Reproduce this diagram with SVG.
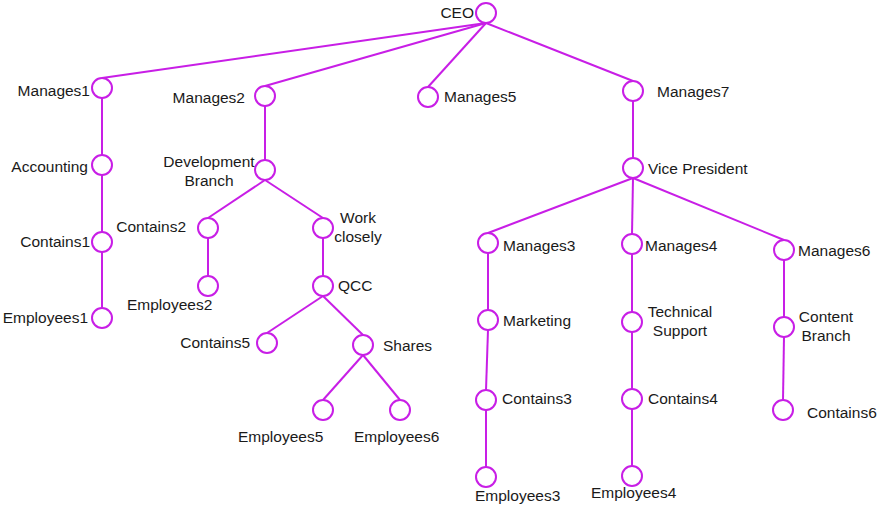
<svg xmlns="http://www.w3.org/2000/svg" width="879" height="507" viewBox="0 0 879 507">
<style>
.n{fill:#fff;stroke:#c81ee6;stroke-width:2}
.e{stroke:#c81ee6;stroke-width:2;fill:none}
text{font-family:"Liberation Sans",Arial,sans-serif;font-size:15.5px;fill:#1a1a1a}
.r{text-anchor:end}
.m{text-anchor:middle}
</style>
<rect width="879" height="507" fill="#fff"/>
<g id="connectors">
<line class="e" x1="486" y1="23" x2="102" y2="78"/>
<line class="e" x1="486" y1="23" x2="265" y2="86"/>
<line class="e" x1="486" y1="23" x2="428" y2="87"/>
<line class="e" x1="486" y1="23" x2="633" y2="81"/>
<line class="e" x1="102" y1="98" x2="102" y2="155"/>
<line class="e" x1="102" y1="175" x2="102" y2="232"/>
<line class="e" x1="102" y1="252" x2="102" y2="308"/>
<line class="e" x1="265" y1="106" x2="265" y2="160"/>
<line class="e" x1="265" y1="180" x2="208" y2="218"/>
<line class="e" x1="265" y1="180" x2="323" y2="218"/>
<line class="e" x1="208" y1="238" x2="208" y2="276"/>
<line class="e" x1="323" y1="238" x2="323" y2="276"/>
<line class="e" x1="323" y1="296" x2="267" y2="333"/>
<line class="e" x1="323" y1="296" x2="363" y2="335"/>
<line class="e" x1="363" y1="355" x2="323" y2="400"/>
<line class="e" x1="363" y1="355" x2="400" y2="400"/>
<line class="e" x1="633" y1="101" x2="633" y2="158"/>
<line class="e" x1="633" y1="178" x2="488" y2="233"/>
<line class="e" x1="633" y1="178" x2="632" y2="234"/>
<line class="e" x1="633" y1="178" x2="784" y2="240"/>
<line class="e" x1="488" y1="253" x2="488" y2="310"/>
<line class="e" x1="488" y1="330" x2="486" y2="390"/>
<line class="e" x1="486" y1="410" x2="486" y2="467"/>
<line class="e" x1="632" y1="254" x2="632" y2="312"/>
<line class="e" x1="632" y1="332" x2="632" y2="389"/>
<line class="e" x1="632" y1="409" x2="632" y2="466"/>
<line class="e" x1="784" y1="260" x2="784" y2="317"/>
<line class="e" x1="784" y1="337" x2="783" y2="400"/>
</g>
<g id="ceo"><circle class="n" cx="486" cy="13" r="10"/><text class="r" x="474" y="18">CEO</text></g>
<g id="manages1"><circle class="n" cx="102" cy="88" r="10"/><text class="r" x="90" y="96">Manages1</text></g>
<g id="accounting"><circle class="n" cx="102" cy="165" r="10"/><text class="r" x="88" y="172">Accounting</text></g>
<g id="contains1"><circle class="n" cx="102" cy="242" r="10"/><text class="r" x="90" y="247">Contains1</text></g>
<g id="employees1"><circle class="n" cx="102" cy="318" r="10"/><text class="r" x="88" y="323">Employees1</text></g>
<g id="manages2"><circle class="n" cx="265" cy="96" r="10"/><text class="r" x="245" y="103">Manages2</text></g>
<g id="development-branch"><circle class="n" cx="265" cy="170" r="10"/><text class="m" x="209" y="167">Development</text><text class="m" x="209" y="186">Branch</text></g>
<g id="contains2"><circle class="n" cx="208" cy="228" r="10"/><text class="r" x="186" y="232">Contains2</text></g>
<g id="employees2"><circle class="n" cx="208" cy="286" r="10"/><text x="127" y="310">Employees2</text></g>
<g id="work-closely"><circle class="n" cx="323" cy="228" r="10"/><text class="m" x="358" y="223">Work</text><text class="m" x="358" y="242">closely</text></g>
<g id="qcc"><circle class="n" cx="323" cy="286" r="10"/><text x="338" y="291">QCC</text></g>
<g id="contains5"><circle class="n" cx="267" cy="343" r="10"/><text class="r" x="250" y="348">Contains5</text></g>
<g id="shares"><circle class="n" cx="363" cy="345" r="10"/><text x="383" y="351">Shares</text></g>
<g id="employees5"><circle class="n" cx="323" cy="410" r="10"/><text x="238" y="442">Employees5</text></g>
<g id="employees6"><circle class="n" cx="400" cy="410" r="10"/><text x="354" y="442">Employees6</text></g>
<g id="manages5"><circle class="n" cx="428" cy="97" r="10"/><text x="444" y="102">Manages5</text></g>
<g id="manages7"><circle class="n" cx="633" cy="91" r="10"/><text x="657" y="97">Manages7</text></g>
<g id="vice-president"><circle class="n" cx="633" cy="168" r="10"/><text x="648" y="174">Vice President</text></g>
<g id="manages3"><circle class="n" cx="488" cy="243" r="10"/><text x="503" y="251">Manages3</text></g>
<g id="marketing"><circle class="n" cx="488" cy="320" r="10"/><text x="503" y="326">Marketing</text></g>
<g id="contains3"><circle class="n" cx="486" cy="400" r="10"/><text x="502" y="404">Contains3</text></g>
<g id="employees3"><circle class="n" cx="486" cy="477" r="10"/><text x="475" y="501">Employees3</text></g>
<g id="manages4"><circle class="n" cx="632" cy="244" r="10"/><text x="645" y="251">Manages4</text></g>
<g id="technical-support"><circle class="n" cx="632" cy="322" r="10"/><text class="m" x="680" y="317">Technical</text><text class="m" x="680" y="336">Support</text></g>
<g id="contains4"><circle class="n" cx="632" cy="399" r="10"/><text x="648" y="404">Contains4</text></g>
<g id="employees4"><circle class="n" cx="632" cy="476" r="10"/><text x="591" y="498">Employees4</text></g>
<g id="manages6"><circle class="n" cx="784" cy="250" r="10"/><text x="798" y="256">Manages6</text></g>
<g id="content-branch"><circle class="n" cx="784" cy="327" r="10"/><text class="m" x="826" y="322">Content</text><text class="m" x="826" y="341">Branch</text></g>
<g id="contains6"><circle class="n" cx="783" cy="410" r="10"/><text x="807" y="418">Contains6</text></g>
</svg>
